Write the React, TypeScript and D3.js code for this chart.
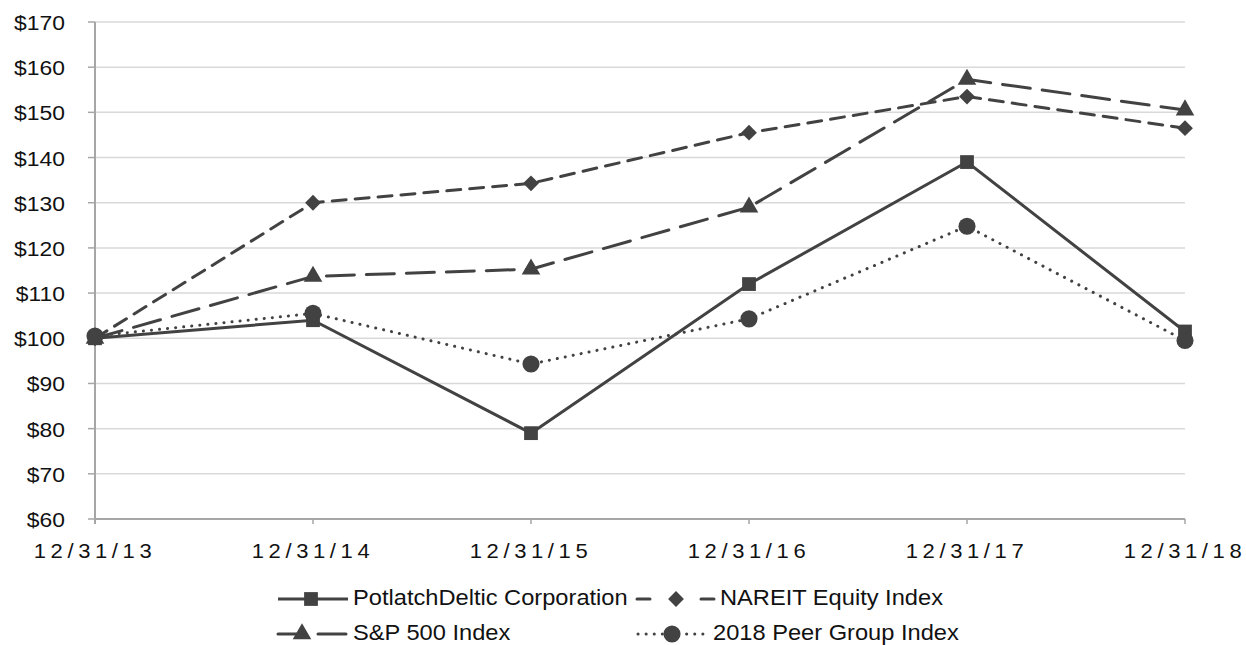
import React from 'react';
import * as d3 from 'd3';

const dates = ['12/31/13', '12/31/14', '12/31/15', '12/31/16', '12/31/17', '12/31/18'];
const potlatch = [100, 104, 79, 112, 139, 101.5];
const nareit = [100, 130, 134.3, 145.5, 153.5, 146.5];
const sp500 = [100, 113.7, 115.3, 129, 157.3, 150.5];
const peer = [100.5, 105.5, 94.3, 104.3, 124.8, 99.5];
const yTicks = [60, 70, 80, 90, 100, 110, 120, 130, 140, 150, 160, 170];

const W = 1246;
const H = 645;
const FONT = '"Liberation Sans", Arial, sans-serif';
const INK = '#424242';

const x = d3.scalePoint<string>().domain(dates).range([95, 1185]);
const y = d3.scaleLinear().domain([60, 170]).range([519, 22]);

type Marker = 'square' | 'diamond' | 'triangle' | 'circle';

const series: { name: string; values: number[]; dash: string; marker: Marker; cap: string }[] = [
  { name: 'PotlatchDeltic Corporation', values: potlatch, dash: '', marker: 'square', cap: 'butt' },
  { name: 'NAREIT Equity Index', values: nareit, dash: '14 9', marker: 'diamond', cap: 'round' },
  { name: 'S&P 500 Index', values: sp500, dash: '28 12', marker: 'triangle', cap: 'round' },
  { name: '2018 Peer Group Index', values: peer, dash: '0.1 8', marker: 'circle', cap: 'round' },
];

const symbolFor: Record<Marker, d3.SymbolType> = {
  square: d3.symbolSquare,
  diamond: d3.symbolSquare,
  triangle: d3.symbolTriangle,
  circle: d3.symbolCircle,
};
const sizeFor: Record<Marker, number> = { square: 190, diamond: 125, triangle: 150, circle: 230 };

const MarkerShape = ({ kind, cx, cy }: { kind: Marker; cx: number; cy: number }) => {
  const path = d3.symbol().type(symbolFor[kind]).size(sizeFor[kind])();
  const rot = kind === 'diamond' ? ' rotate(45)' : '';
  return <path d={path || ''} transform={`translate(${cx},${cy})${rot}`} fill={INK} />;
};

// stretched text, the reference glyphs are a bit wider than Arial
const Txt = ({ x: tx, y: ty, size, sx, anchor, spacing, children }: any) => (
  <text
    transform={`translate(${tx},${ty}) scale(${sx},1)`}
    textAnchor={anchor || 'start'}
    fontFamily={FONT}
    fontSize={size}
    letterSpacing={spacing || 0}
    fill="#111"
  >
    {children}
  </text>
);

// legend placement
const legend = [
  { s: 0, x1: 278, x2: 348, mx: 311, tx: 353, y: 599 },
  { s: 1, x1: 637, x2: 714, mx: 676, tx: 720, y: 599 },
  { s: 2, x1: 278, x2: 348, mx: 302, tx: 353, y: 634 },
  { s: 3, x1: 638, x2: 708, mx: 672, tx: 713, y: 634 },
];

export default function App() {
  const line = d3
    .line<number>()
    .x((_, i) => x(dates[i]) as number)
    .y((d) => y(d));

  return (
    <svg width={W} height={H} style={{ position: 'absolute', left: 0, top: 0, background: '#fff' }}>
      {/* gridlines */}
      {yTicks.map((t) => (
        <line key={t} x1={95} x2={1185} y1={y(t)} y2={y(t)} stroke="#d9d9d9" strokeWidth={1.5} />
      ))}
      {/* y axis */}
      <line x1={95} x2={95} y1={y(170)} y2={y(60) + 5} stroke="#a6a6a6" strokeWidth={2} />
      {yTicks.map((t) => (
        <g key={'yt' + t}>
          <line x1={88} x2={95} y1={y(t)} y2={y(t)} stroke="#a6a6a6" strokeWidth={1.5} />
          <Txt x={65} y={y(t) + 8} size={21} sx={1.09} anchor="end">
            ${t}
          </Txt>
        </g>
      ))}
      {/* x axis */}
      <line x1={95} x2={1185} y1={y(60)} y2={y(60)} stroke="#a6a6a6" strokeWidth={2} />
      {dates.map((d) => (
        <g key={d}>
          <line x1={x(d)} x2={x(d)} y1={y(60)} y2={y(60) + 5} stroke="#a6a6a6" strokeWidth={1.5} />
          <Txt x={(x(d) as number)} y={558} size={20} sx={1.1} anchor="middle" spacing={4.2}>
            {d}
          </Txt>
        </g>
      ))}
      {/* series */}
      {series.map((s) => (
        <g key={s.name}>
          <path
            d={line(s.values) || ''}
            fill="none"
            stroke={INK}
            strokeWidth={3}
            strokeDasharray={s.dash || undefined}
            strokeLinecap={s.cap as any}
          />
          {s.values.map((v, i) => (
            <MarkerShape key={i} kind={s.marker} cx={x(dates[i]) as number} cy={y(v)} />
          ))}
        </g>
      ))}
      {/* legend */}
      {legend.map((l) => {
        const s = series[l.s];
        return (
          <g key={s.name}>
            <line
              x1={l.x1}
              x2={l.x2}
              y1={l.y}
              y2={l.y}
              stroke={INK}
              strokeWidth={3}
              strokeDasharray={s.marker === 'diamond' ? '13 51' : s.dash || undefined}
              strokeLinecap={s.cap as any}
            />
            <MarkerShape kind={s.marker} cx={l.mx} cy={l.y} />
            <Txt x={l.tx} y={l.y + 6} size={21.5} sx={1.1}>
              {s.name}
            </Txt>
          </g>
        );
      })}
    </svg>
  );
}
